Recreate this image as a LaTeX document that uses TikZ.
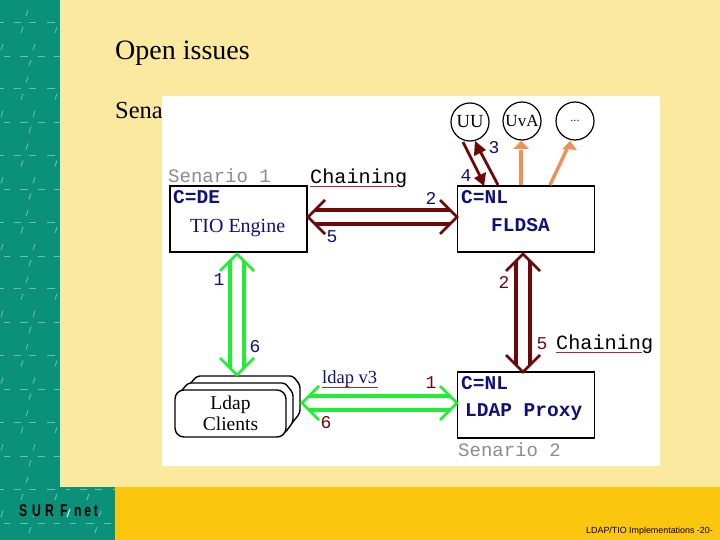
\documentclass[tikz,border=0pt]{standalone}
\usepackage{fontspec}
\setmainfont{Liberation Serif}
\newfontfamily\monof{Liberation Mono}
\newfontfamily\sansf{Liberation Sans}
\usetikzlibrary{calc}
\definecolor{teal1}{HTML}{0B9079}
\definecolor{teal2}{HTML}{5FC4B4}
\definecolor{cream}{HTML}{FBE9A0}
\definecolor{gold}{HTML}{FBC60E}
\definecolor{dred}{HTML}{6E0808}
\definecolor{lgreen}{HTML}{20EE30}
\definecolor{orng}{HTML}{F09058}
\definecolor{navy1}{HTML}{10107A}
\definecolor{ulred}{HTML}{B02828}
\definecolor{gr1}{HTML}{8C8C8C}
\newcommand{\px}[1]{\fontsize{#1}{#1}\selectfont}
% double-shafted, double-headed arrow between two points
\newcommand{\dblarrow}[3]{%
  \draw[#1,line width=4pt]
    ($($(#2)!7pt!(#3)$)!7pt!90:(#3)$) -- ($($(#3)!7pt!(#2)$)!7pt!-90:(#2)$)
    ($($(#2)!7pt!(#3)$)!7pt!-90:(#3)$) -- ($($(#3)!7pt!(#2)$)!7pt!90:(#2)$);
  \draw[#1,line width=2.8pt]
    ($($(#2)!17pt!(#3)$)!17pt!90:(#3)$) -- (#2) -- ($($(#2)!17pt!(#3)$)!17pt!-90:(#3)$)
    ($($(#3)!17pt!(#2)$)!17pt!90:(#2)$) -- (#3) -- ($($(#3)!17pt!(#2)$)!17pt!-90:(#2)$);
}
\tikzset{
  boxn/.style={draw=black,line width=1.5pt,fill=white,inner sep=0pt,minimum width=137pt,minimum height=66pt},
  circn/.style={draw=black,line width=1.2pt,fill=white,circle,inner sep=0pt,minimum size=38pt},
  lab/.style={inner sep=0pt,anchor=west},
  monolab/.style={lab,font=\px{19.5}\monof\bfseries,text=navy1},
  greylab/.style={lab,font=\px{19}\monof,text=gr1},
  chain/.style={lab,font=\px{20.2}\monof,text=black},
  num/.style={inner sep=0pt,font=\px{18}\monof},
  clientbox/.style={draw=black,line width=1.4pt,fill=white,rounded corners=3pt},
  thin1/.style={line width=2.8pt},
}
\begin{document}
\begin{tikzpicture}[x=1pt,y=-1pt]
\useasboundingbox (0,0) rectangle (720,540);
% background
\fill[cream] (0,0) rectangle (720,540);
\fill[teal1] (0,0) rectangle (60,540);
\fill[teal1] (0,487) rectangle (115,540);
\fill[gold] (115,487) rectangle (720,540);
% pattern
\begin{scope}
\clip (0,0) rectangle (60,540) (0,487) rectangle (115,540);
\foreach \r in {0,...,8}{
  \begin{scope}[shift={(0,{\r*66.7})}]
    \foreach \c in {0,1,2}{
      \begin{scope}[shift={({\c*66},0)}]
        \draw[teal2,line width=.8pt]
          (0,22)--(4,22) (14,22)--(21,22) (29,22)--(36,22) (47,22)--(55,22)
          (4,56)--(10,56) (20,56)--(28,56) (38,56)--(45,56) (54,56)--(60,56);
        \draw[teal2,line width=.9pt]
          (28,10)--(26,16) (23,27)--(21,33) (57,27)--(55,33)
          (3,44)--(1,50) (35,44)--(33,50) (31,60)--(29,66);
      \end{scope}
    }
  \end{scope}
}
\end{scope}
% titles
\node[lab,font=\px{28}] (title) at (115,53) {Open issues};
\node[lab,font=\px{24.5}] (sena) at (115,111) {Sena};
% image panel
\fill[white] (162,96) rectangle (660,466);
% boxes
\node[boxn] (tio) at (238.5,219) {};
\node[boxn] (fldsa) at (526,219) {};
\node[boxn] (proxy) at (526,405) {};
\node[monolab] (cde) at (173,197) {C=DE};
\node[lab,font=\px{20},text=navy1] (tioe) at (190,228) {TIO Engine};
\node[monolab] (cnl1) at (461,197) {C=NL};
\node[monolab] (fl) at (491,225) {FLDSA};
\node[monolab] (cnl2) at (461,383) {C=NL};
\node[monolab] (lp) at (465,412) {LDAP Proxy};
% circles
\node[circn,font=\px{18.5}] (uu) at (470,122) {UU};
\node[circn,font=\px{17}] (uva) at (522,121) {UvA};
\node[circn,font=\px{11}\sansf] (etc) at (575,121) {...};
% clients stack
\draw[clientbox] (197,376) -- (293,376) -- (300,385) -- (300,413) -- (288,428) -- (180,428) -- (180,395) -- cycle;
\draw[clientbox] (188,383) -- (285,383) -- (293,393) -- (293,422) -- (285,433) -- (180,433) -- (178,395) -- cycle;
\node[draw=black,line width=1.4pt,fill=white,rounded corners=9pt,minimum width=111pt,minimum height=47pt,inner sep=0pt,font=\px{19.5},align=center,text=black] (clients) at (230.5,413.5) {Ldap\\[1pt]Clients};
% arrows
\dblarrow{dred}{308,217}{457,217}
\dblarrow{lgreen}{237,254}{237,375}
\dblarrow{dred}{523,254}{523,372}
\dblarrow{lgreen}{302,403}{457,403}
% UU arrows
\draw[dred,thin1] (463,142) -- (482,180);
\fill[dred] (484,186) -- (474,178) -- (486,172) -- cycle;
\draw[dred,thin1] (498,185) -- (479,149);
\fill[dred] (475,141) -- (486,150) -- (474,156) -- cycle;
\draw[orng,line width=3.4pt] (521,185) -- (521,150);
\fill[orng] (521,141) -- (529,149) -- (513,149) -- cycle;
\draw[orng,line width=3.4pt] (550,185) -- (567,149);
\fill[orng] (570,141) -- (577,150) -- (562,149) -- cycle;
% labels
\node[greylab] (s1) at (168,176) {Senario 1};
\node[greylab] (s2) at (458,450) {Senario 2};
\node[chain] (ch1) at (310,178) {Chaining};
\draw[ulred,line width=1pt] (310,186.5) -- (397,186.5);
\node[chain] (ch2) at (556,344) {Chaining};
\draw[ulred,line width=1pt] (556,352.5) -- (642,352.5);
\node[lab,font=\px{18.5},text=navy1] (ldap) at (322,379) {ldap v3};
\draw[ulred,line width=1pt] (322,387.5) -- (378,387.5);
\node[num,text=navy1] (n1) at (431,198) {2};
\node[num,text=navy1] (n2) at (332,237) {5};
\node[num,text=navy1] (n3) at (219,280) {1};
\node[num,text=navy1] (n4) at (255,347) {6};
\node[num,text=navy1] (n5) at (494,148) {3};
\node[num,text=navy1] (n6) at (466,176) {4};
\node[num,text=dred] (n7) at (504,282) {2};
\node[num,text=dred] (n8) at (542,344) {5};
\node[num,text=dred] (n9) at (431,383) {1};
\node[num,text=dred] (n10) at (326,423) {6};
% logo and footer
\node[lab,font=\px{17}\sansf\bfseries,text=black,xscale=.72,transform shape] (logo) at (19,511) {S\hspace{6.8pt}U\hspace{5.7pt}R\hspace{8.5pt}F\hspace{9pt}n\hspace{3.9pt}e\hspace{3.9pt}t};
\draw[white!70!teal2,line width=1pt] (70,509) -- (67,517);
\node[lab,font=\px{8.9}\sansf,text=black] (foot) at (586,531) {LDAP/TIO Implementations -20-};
\end{tikzpicture}
\end{document}
